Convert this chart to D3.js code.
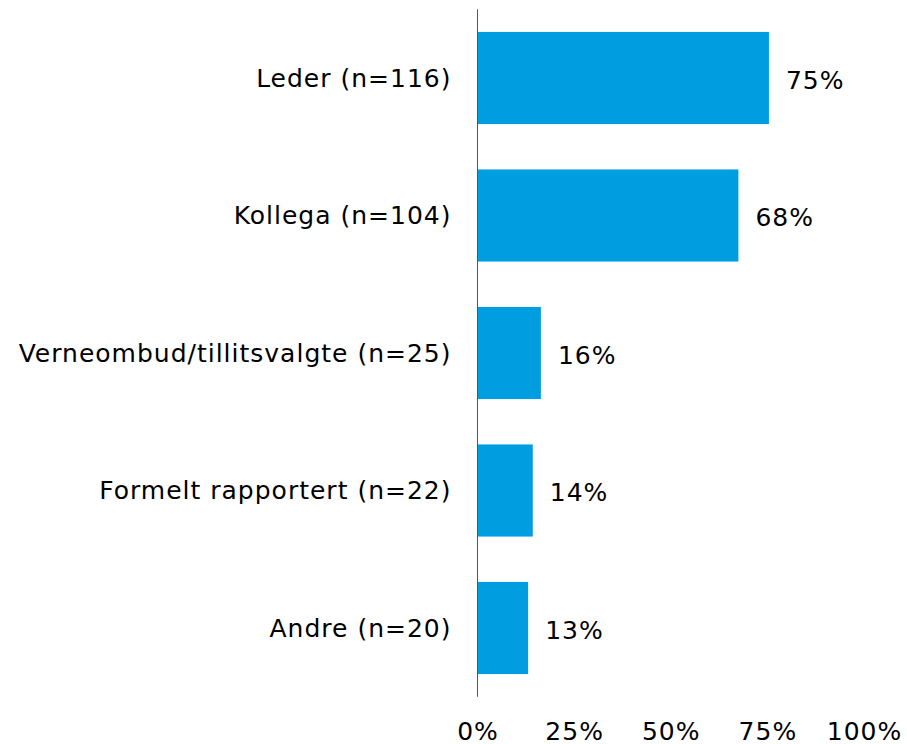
<!DOCTYPE html>
<html>
<head>
<meta charset="utf-8">
<script src="https://cdn.jsdelivr.net/npm/d3@7"></script>
<style>
    body { margin: 0; background: #fff; }
    svg text { font-family: Verdana, "DejaVu Sans", sans-serif; fill: #000; letter-spacing: 1px; }
</style>
</head>
<body>
<svg id="chart" width="907" height="744"></svg>
<script>
const categories = [
    'Leder (n=116)',
    'Kollega (n=104)',
    'Verneombud/tillitsvalgte (n=25)',
    'Formelt rapportert (n=22)',
    'Andre (n=20)'
];
const values = [75.4, 67.5, 16.4, 14.3, 13.1];
const valueLabels = ['75%', '68%', '16%', '14%', '13%'];
const ticks = [0, 25, 50, 75, 100];

const svg = d3.select('#chart');

const params = {
    fontSize: 25,
    barColor: '#009ee0',
    axisColor: '#555555',
    left: 477.5,
    right: 864,
    top: 9.25,
    bottom: 696.75
};

const data = categories.map((name, i) => ({ name, value: values[i], label: valueLabels[i] }));

const x = d3.scaleLinear()
    .domain([0, 100])
    .range([params.left, params.right]);

const y = d3.scaleBand()
    .domain(categories)
    .range([params.top, params.bottom])
    .paddingInner(0.33)
    .paddingOuter(0.165);

// bars
svg.selectAll('rect.bar')
    .data(data)
    .enter()
    .append('rect')
    .attr('class', 'bar')
    .attr('x', x(0))
    .attr('y', d => y(d.name))
    .attr('width', d => x(d.value) - x(0))
    .attr('height', y.bandwidth())
    .attr('fill', params.barColor);

// category labels
svg.selectAll('text.cat')
    .data(data)
    .enter()
    .append('text')
    .attr('class', 'cat')
    .attr('x', x(0) - 26)
    .attr('y', d => y(d.name) + y.bandwidth() / 2)
    .attr('dy', '0.34em')
    .attr('text-anchor', 'end')
    .style('font-size', params.fontSize + 'px')
    .text(d => d.name);

// value labels
svg.selectAll('text.val')
    .data(data)
    .enter()
    .append('text')
    .attr('class', 'val')
    .attr('x', d => x(d.value) + 17)
    .attr('y', d => y(d.name) + y.bandwidth() / 2)
    .attr('dy', '0.42em')
    .style('font-size', params.fontSize + 'px')
    .text(d => d.label);

// vertical axis line
svg.append('line')
    .attr('x1', x(0))
    .attr('x2', x(0))
    .attr('y1', params.top)
    .attr('y2', params.bottom)
    .attr('stroke', params.axisColor)
    .attr('stroke-width', 1);

// x tick labels (no axis line)
const xAxis = d3.axisBottom(x)
    .tickValues(ticks)
    .tickFormat(d => d + '%')
    .tickSize(0)
    .tickPadding(0);

const gx = svg.append('g')
    .attr('transform', 'translate(0, 740)')
    .call(xAxis);

gx.select('.domain').remove();
gx.selectAll('text')
    .attr('dy', 0)
    .attr('y', 0)
    .attr('fill', '#000')
    .style('font-family', 'Verdana, "DejaVu Sans", sans-serif')
    .style('font-size', params.fontSize + 'px');
</script>
</body>
</html>
